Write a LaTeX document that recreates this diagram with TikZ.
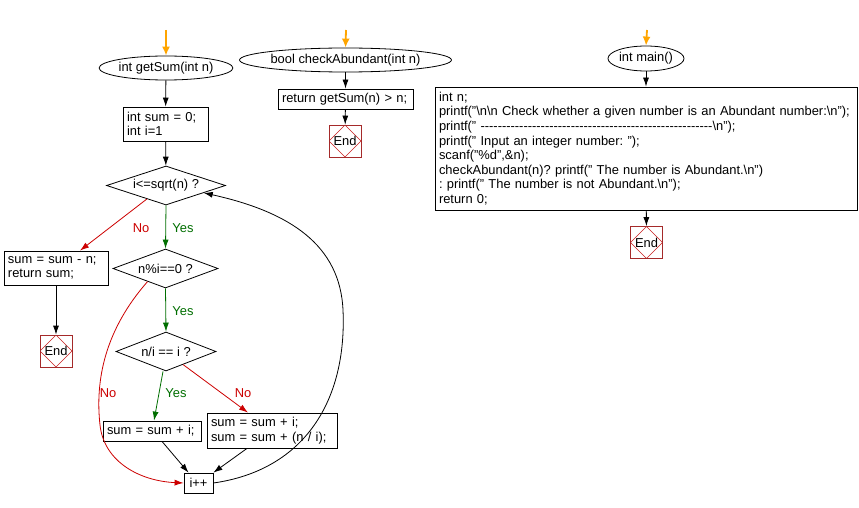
\documentclass[tikz,border=0pt]{standalone}
\usepackage{fontspec}
\setmainfont{Liberation Sans}
\usetikzlibrary{shapes.geometric,arrows.meta,calc}
\definecolor{flowred}{RGB}{204,0,0}
\definecolor{flowgreen}{RGB}{0,110,0}
\definecolor{floworange}{RGB}{255,165,0}
\definecolor{endbrown}{RGB}{165,42,42}
\definecolor{endred}{RGB}{200,30,30}
\begin{document}
\frenchspacing
\begin{tikzpicture}[x=1pt,y=-1pt,
  font=\fontsize{12.9}{14.6}\selectfont,
  every node/.style={inner sep=0pt},
  proc/.style={draw, line width=0.8pt, rectangle, align=left, inner xsep=4pt, inner ysep=0pt},
  term/.style={draw, line width=0.8pt, ellipse, inner sep=0pt},
  decide/.style={draw, line width=0.8pt, diamond, inner sep=0pt, aspect=3},
  endbox/.style={draw=endbrown, line width=0.8pt, minimum width=32pt, minimum height=32pt, inner sep=0pt,
    path picture={\draw[endred, line width=0.5pt] (path picture bounding box.north) -- (path picture bounding box.east) -- (path picture bounding box.south) -- (path picture bounding box.west) -- cycle;}},
  arr/.style={-{Latex[length=9pt,width=6pt]}, line width=0.8pt},
  yesarr/.style={arr, flowgreen},
  noarr/.style={arr, flowred},
  startarr/.style={-{Latex[length=9pt,width=8pt]}, line width=1.8pt, floworange},
  yeslbl/.style={text=flowgreen},
  nolbl/.style={text=flowred}]
\useasboundingbox (0,0) rectangle (859,508);

% ---------------- getSum ----------------
\coordinate (gsTop) at (166,30);
\node[term, minimum width=113pt, minimum height=24pt] (gs) at (166,68) {int getSum(int n)};
\node[proc, text width=77pt, minimum height=34pt] (init) at (165.5,124) {int sum = 0;\\int i=1};
\node[decide, minimum width=119pt, minimum height=39pt] (d1) at (166,185.5) {i<=sqrt(n) ?};
\node[proc, text width=96pt, minimum height=34pt] (ret1) at (56,268) {sum = sum - n;\\return sum;};
\node[endbox] (end1) at (56,351) {End};
\node[decide, minimum width=105pt, minimum height=39pt] (d2) at (165.5,268.5) {n\%i==0 ?};
\node[decide, minimum width=100pt, minimum height=39pt] (d3) at (166,351.5) {n/i == i ?};
\node[proc, text width=90pt, minimum height=20pt, inner xsep=4pt] (sa) at (152,431) {sum = sum + i;};
\node[proc, text width=122pt, minimum height=35pt] (sb) at (272,430.5) {sum = sum + i;\\sum = sum + (n / i);};
\node[draw, line width=0.8pt, minimum width=29pt, minimum height=20pt] (inc) at (198.5,483) {i++};

\draw[startarr] (gsTop) -- (gs.north);
\draw[arr] (gs) -- (init);
\draw[arr] (init) -- (d1);
\draw[noarr] ($(d1.west)!0.68!(d1.south)$) -- ([xshift=24pt]ret1.north);
\node[nolbl] (lno1) at (141,228) {No};
\draw[arr] (ret1.south) -- (end1.north);
\draw[yesarr] (d1.south) -- (d2.north);
\node[yeslbl] (lyes1) at (183,228) {Yes};
\draw[yesarr] (d2.south) -- (d3.north);
\node[yeslbl] (lyes2) at (183,311) {Yes};
\draw[yesarr] ([xshift=-3pt]d3.south) -- ([xshift=2pt]sa.north);
\node[yeslbl] (lyes3) at (176,393) {Yes};
\draw[noarr] ($(d3.south)!0.34!(d3.east)$) -- ([xshift=-24pt]sb.north);
\node[nolbl] (lno2) at (243,393) {No};
\draw[arr] ([xshift=10pt]sa.south) -- ([xshift=-10pt]inc.north);
\draw[arr] ([xshift=-25pt]sb.south) -- (inc.north east);
\draw[noarr] ($(d2.west)!0.66!(d2.south)$) .. controls (105,330) and (95,380) .. (100,425)
  .. controls (104,462) and (140,481) .. (inc.west);
\node[nolbl] (lno3) at (108,393) {No};
\draw[arr] (inc.east) .. controls (305,470) and (347,400) .. (343,310)
  .. controls (340,245) and (290,212) .. ($(d1.south)!0.63!(d1.east)$);

% ---------------- checkAbundant ----------------
\coordinate (caTop) at (346,30);
\node[term, minimum width=167pt, minimum height=24pt] (ca) at (345.5,60) {bool checkAbundant(int n)};
\node[proc, text width=127pt, minimum height=20pt] (caret) at (345.5,99) {return getSum(n) > n;};
\node[endbox] (end2) at (345,141) {End};
\draw[startarr] (caTop) -- (ca.north);
\draw[arr] (ca) -- (caret);
\draw[arr] (caret) -- (end2);

% ---------------- main ----------------
\coordinate (mTop) at (647,30);
\node[term, minimum width=72pt, minimum height=25pt] (mn) at (646,58.5) {int main()};
\node[proc, text width=414pt, minimum height=123pt] (body) at (646,148.5) {int n;\\
printf("\textbackslash n\textbackslash n Check whether a given number is an Abundant number:\textbackslash n");\\
printf(" {-}{-}{-}{-}{-}{-}{-}{-}{-}{-}{-}{-}{-}{-}{-}{-}{-}{-}{-}{-}{-}{-}{-}{-}{-}{-}{-}{-}{-}{-}{-}{-}{-}{-}{-}{-}{-}{-}{-}{-}{-}{-}{-}{-}{-}{-}{-}{-}{-}{-}{-}{-}{-}{-}\textbackslash n");\\
printf(" Input an integer number: ");\\
scanf("\%d",\&n);\\
checkAbundant(n)? printf(" The number is Abundant.\textbackslash n")\\
: printf(" The number is not Abundant.\textbackslash n");\\
return 0;};
\node[endbox] (end3) at (646.5,242.5) {End};
\draw[startarr] (mTop) -- (mn.north);
\draw[arr] (mn) -- (body);
\draw[arr] (body) -- (end3);
\end{tikzpicture}
\end{document}
